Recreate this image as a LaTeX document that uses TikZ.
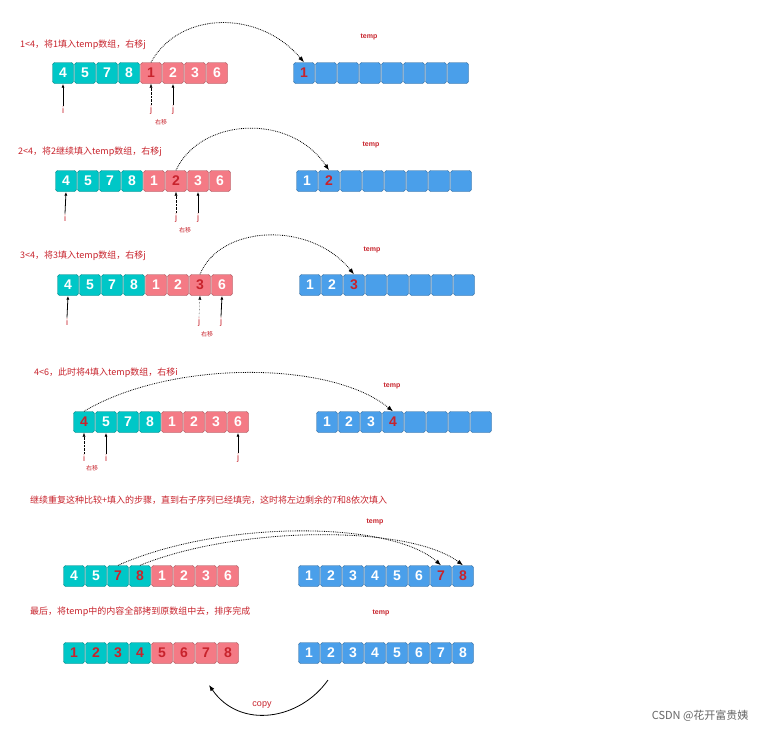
\documentclass[tikz,border=0pt]{standalone}
\usepackage{fontspec}
\setmainfont{Liberation Sans}
\newfontfamily\cjk{Noto Sans CJK SC}
\usetikzlibrary{arrows.meta}
\definecolor{teal1}{RGB}{0,199,199}
\definecolor{pink1}{RGB}{244,122,133}
\definecolor{blue1}{RGB}{74,159,234}
\definecolor{red1}{RGB}{200,35,44}
\begin{document}
\begin{tikzpicture}[x=1pt,y=-1pt,
  cell/.style={draw=#1!65!black, fill=#1, rounded corners=2.5pt, minimum width=21pt, minimum height=21pt, inner sep=0pt, font=\fontsize{14}{14}\selectfont\bfseries},
  note/.style={text=red1, font=\cjk\fontsize{9}{9}\selectfont, anchor=west, inner sep=0pt},
  tlab/.style={text=red1, font=\bfseries\fontsize{7}{7}\selectfont, inner sep=0pt},
  plab/.style={text=red1, font=\fontsize{9}{9}\selectfont, inner sep=1pt},
  small/.style={text=red1, font=\cjk\fontsize{6}{6}\selectfont, inner sep=0pt},
  ptr/.style={-{Latex[length=4pt]}, thick},
  oldptr/.style={-{Latex[length=4pt]}, densely dotted},
  jump/.style={-{Latex[length=6pt]}, densely dotted, thick}]
\fill[white] (0,0) rectangle (766,734);
% row 1
\foreach \i/\v/\c/\t in {1/4/teal1/white,2/5/teal1/white,3/7/teal1/white,4/8/teal1/white,5/1/pink1/red1,6/2/pink1/white,7/3/pink1/white,8/6/pink1/white}
  \node[cell=\c, text=\t] (a1-\i) at (52+11+22*\i-22, 73) {\v};
\foreach \i/\v/\t in {1/1/red1,2//white,3//white,4//white,5//white,6//white,7//white,8//white}
  \node[cell=blue1, text=\t] (b1-\i) at (293+11+22*\i-22, 73) {\v};
\node[note] (n1) at (20,45) {1<4，将1填入temp数组，右移j};
\node[tlab] (t1) at (369,37) {temp};
\node[plab] (i1) at (63,110) {i};
\node[plab] (j1a) at (151,110) {j};
\node[plab] (j1b) at (173,110) {j};
\node[small] (s1) at (161,122) {右移};
\draw[ptr] (i1.north) -- (a1-1.south);
\draw[oldptr] (j1a.north) -- (a1-5.south);
\draw[ptr] (j1b.north) -- (a1-6.south);
\draw[jump] (a1-5.north) .. controls (180,10) and (260,10) .. (b1-1.north);
% row 2
\foreach \i/\v/\c/\t in {1/4/teal1/white,2/5/teal1/white,3/7/teal1/white,4/8/teal1/white,5/1/pink1/white,6/2/pink1/red1,7/3/pink1/white,8/6/pink1/white}
  \node[cell=\c, text=\t] (a2-\i) at (55+11+22*\i-22, 181) {\v};
\foreach \i/\v/\t in {1/1/white,2/2/red1,3//white,4//white,5//white,6//white,7//white,8//white}
  \node[cell=blue1, text=\t] (b2-\i) at (296+11+22*\i-22, 181) {\v};
\node[note] (n2) at (18,152) {2<4，将2继续填入temp数组，右移j};
\node[tlab] (t2) at (371,145) {temp};
\node[plab] (i2) at (65,218) {i};
\node[plab] (j2a) at (176,218) {j};
\node[plab] (j2b) at (198,218) {j};
\node[small] (s2) at (185,230) {右移};
\draw[ptr] (i2.north) -- (a2-1.south);
\draw[oldptr] (j2a.north) -- (a2-6.south);
\draw[ptr] (j2b.north) -- (a2-7.south);
\draw[jump] (a2-6.north) .. controls (200,118) and (290,112) .. (b2-2.north);
% row 3
\foreach \i/\v/\c/\t in {1/4/teal1/white,2/5/teal1/white,3/7/teal1/white,4/8/teal1/white,5/1/pink1/white,6/2/pink1/white,7/3/pink1/red1,8/6/pink1/white}
  \node[cell=\c, text=\t] (a3-\i) at (57+11+22*\i-22, 285) {\v};
\foreach \i/\v/\t in {1/1/white,2/2/white,3/3/red1,4//white,5//white,6//white,7//white,8//white}
  \node[cell=blue1, text=\t] (b3-\i) at (299+11+22*\i-22, 285) {\v};
\node[note] (n3) at (20,256) {3<4，将3填入temp数组，右移j};
\node[tlab] (t3) at (372,250) {temp};
\node[plab] (i3) at (67,322) {i};
\node[plab] (j3a) at (199,322) {j};
\node[plab] (j3b) at (221,322) {j};
\node[small] (s3) at (207,334) {右移};
\draw[ptr] (i3.north) -- (a3-1.south);
\draw[oldptr] (j3a.north) -- (a3-7.south);
\draw[ptr] (j3b.north) -- (a3-8.south);
\draw[jump] (a3-7.north) .. controls (220,225) and (310,220) .. (b3-3.north);
% row 4
\foreach \i/\v/\c/\t in {1/4/teal1/red1,2/5/teal1/white,3/7/teal1/white,4/8/teal1/white,5/1/pink1/white,6/2/pink1/white,7/3/pink1/white,8/6/pink1/white}
  \node[cell=\c, text=\t] (a4-\i) at (73+11+22*\i-22, 422) {\v};
\foreach \i/\v/\t in {1/1/white,2/2/white,3/3/white,4/4/red1,5//white,6//white,7//white,8//white}
  \node[cell=blue1, text=\t] (b4-\i) at (316+11+22*\i-22, 422) {\v};
\node[note] (n4) at (34,373) {4<6，此时将4填入temp数组，右移i};
\node[tlab] (t4) at (392,386) {temp};
\node[plab] (i4a) at (84,458) {i};
\node[plab] (i4b) at (106,458) {i};
\node[plab] (j4) at (238,458) {j};
\node[small] (s4) at (92,468) {右移};
\draw[oldptr] (i4a.north) -- (a4-1.south);
\draw[ptr] (i4b.north) -- (a4-2.south);
\draw[ptr] (j4.north) -- (a4-8.south);
\draw[jump] (a4-1.north) .. controls (170,360) and (330,360) .. (b4-4.north);
% row 5
\foreach \i/\v/\c/\t in {1/4/teal1/white,2/5/teal1/white,3/7/teal1/red1,4/8/teal1/red1,5/1/pink1/white,6/2/pink1/white,7/3/pink1/white,8/6/pink1/white}
  \node[cell=\c, text=\t] (a5-\i) at (63+11+22*\i-22, 576) {\v};
\foreach \i/\v/\t in {1/1/white,2/2/white,3/3/white,4/4/white,5/5/white,6/6/white,7/7/red1,8/8/red1}
  \node[cell=blue1, text=\t] (b5-\i) at (298+11+22*\i-22, 576) {\v};
\node[note] (n5) at (30,500) {继续重复这种比较+填入的步骤，直到右子序列已经填完，这时将左边剩余的7和8依次填入};
\node[tlab] (t5) at (375,522) {temp};
\draw[jump] (a5-3.north) .. controls (220,520) and (390,520) .. (b5-7.north);
\draw[jump] (a5-4.north) .. controls (240,525) and (410,525) .. (b5-8.north);
% row 6
\foreach \i/\v/\c in {1/1/teal1,2/2/teal1,3/3/teal1,4/4/teal1,5/5/pink1,6/6/pink1,7/7/pink1,8/8/pink1}
  \node[cell=\c, text=red1] (a6-\i) at (63+11+22*\i-22, 653) {\v};
\foreach \i in {1,...,8}
  \node[cell=blue1, text=white] (b6-\i) at (298+11+22*\i-22, 653) {\i};
\node[note] (n6) at (30,612) {最后，将temp中的内容全部拷到原数组中去，排序完成};
\node[tlab] (t6) at (381,613) {temp};
\coordinate (cs) at (328,680);
\coordinate (ce) at (209,685);
\draw[-{Latex[length=6pt]}, thick] (cs) .. controls (300,720) and (240,730) .. (ce);
\node[text=red1, font=\fontsize{9}{9}\selectfont] (cp) at (262,705) {copy};
% watermark
\node[text=black!60, font=\cjk\fontsize{11}{11}\selectfont, anchor=east] (wm) at (752,716) {CSDN @花开富贵姨};
\end{tikzpicture}
\end{document}
